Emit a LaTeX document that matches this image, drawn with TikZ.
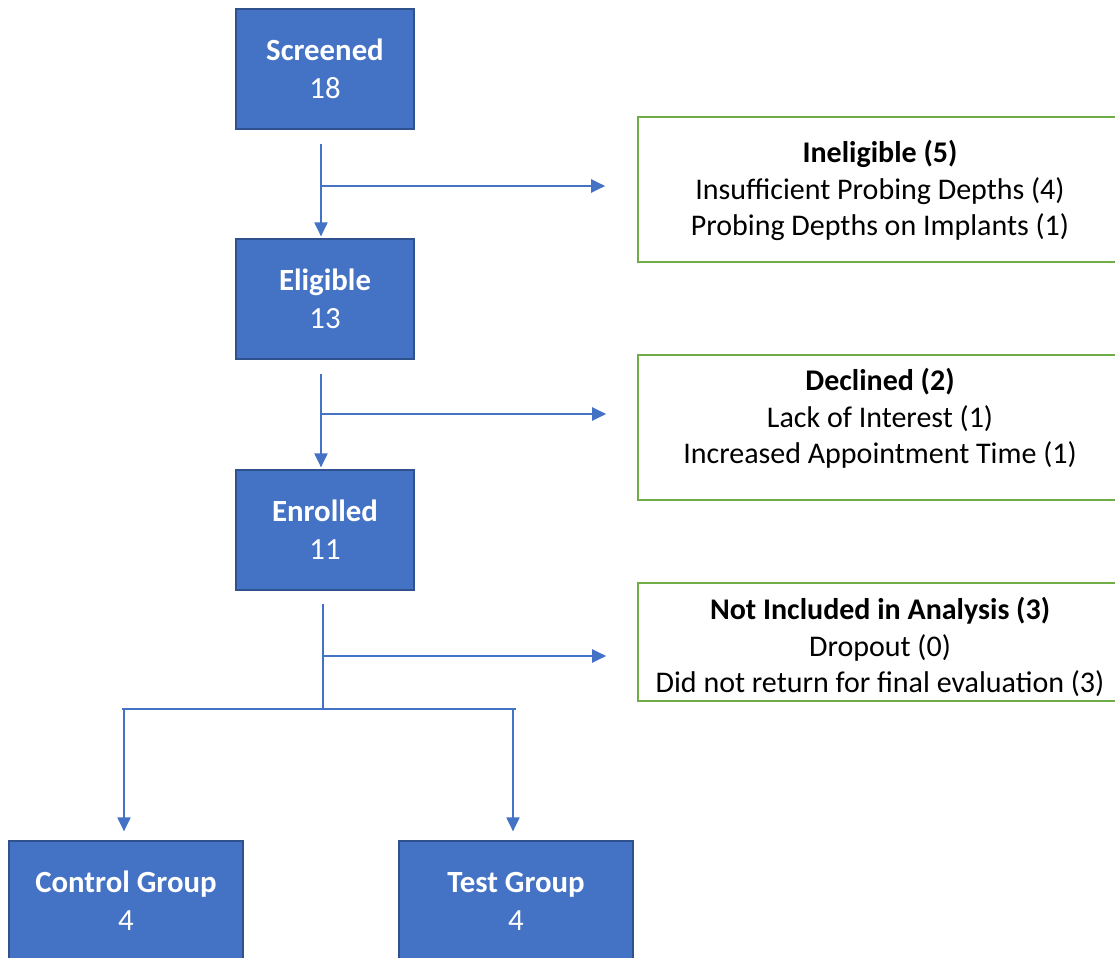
\documentclass[tikz,border=0pt]{standalone}
\usepackage{fontspec}
\setmainfont{Carlito}
\usetikzlibrary{arrows.meta}
\definecolor{boxblue}{HTML}{4472C4}
\definecolor{boxedge}{HTML}{2F528F}
\definecolor{boxgreen}{HTML}{70AD47}
\begin{document}
\begin{tikzpicture}[x=0.5pt,y=-0.5pt,
    stage/.style={draw=boxedge,fill=boxblue,line width=0.6pt,text=white,
      font=\fontsize{15.4}{19}\selectfont,align=center,inner sep=0pt,
      minimum width=89pt,minimum height=60pt},
    group/.style={stage,minimum width=117pt},
    reason/.style={draw=boxgreen,line width=0.8pt,fill=white,inner sep=0pt,
      minimum width=242pt},
    reasontext/.style={font=\fontsize{15}{18.25}\selectfont,align=center,inner sep=0pt},
    flowline/.style={draw=boxblue,line width=1pt},
    flow/.style={flowline,-{Triangle[width=6.5pt,length=7pt]}}]
  \useasboundingbox (0,0) rectangle (1115,958);
  \clip (0,0) rectangle (1115,958);

  %%%%%%%%%%%%%%%%%%%%%%%%%%%%%%%%%%%%%%%%%%%%%%%%%%%%%%%%%%%%%%%%%%%%%%%%%%%
  %%%%  Main stages
  \node[stage] (scr) at (325,69) {\textbf{Screened}\\18};
  \node[stage] (elig) at (325,299) {\textbf{Eligible}\\13};
  \node[stage] (enr) at (325,530) {\textbf{Enrolled}\\11};
  \node[group] (ctrl) at (126,901) {\textbf{Control Group}\\4};
  \node[group] (test) at (516,901) {\textbf{Test Group}\\4};

  %%%%%%%%%%%%%%%%%%%%%%%%%%%%%%%%%%%%%%%%%%%%%%%%%%%%%%%%%%%%%%%%%%%%%%%%%%%
  %%%%  Exclusions
  \node[reason,minimum height=72.5pt,
    label={[reasontext,yshift=-0.5pt]center:{\textbf{Ineligible (5)}\\Insufficient Probing Depths (4)\\Probing Depths on Implants (1)}}]
    (inel) at (880,189.5) {};
  \node[reason,minimum height=72.5pt,
    label={[reasontext,yshift=4.5pt]center:{\textbf{Declined (2)}\\Lack of Interest (1)\\Increased Appointment Time (1)}}]
    (decl) at (880,427.5) {};
  \node[reason,minimum height=59pt,
    label={[reasontext,yshift=-2.5pt]center:{\textbf{Not Included in Analysis (3)}\\Dropout (0)\\Did not return for final evaluation (3)}}]
    (notin) at (880,642) {};

  %%%%%%%%%%%%%%%%%%%%%%%%%%%%%%%%%%%%%%%%%%%%%%%%%%%%%%%%%%%%%%%%%%%%%%%%%%%
  %%%%  Arrows
  \coordinate (j1) at (321,186);
  \coordinate (j2) at (325,414);
  \coordinate (j3) at (325,656);
  \draw[flow,shorten <=7pt,shorten >=1pt] ([xshift=-2pt]scr.south) -- ([xshift=-2pt]elig.north);
  \draw[flow,shorten <=7pt,shorten >=1pt] ([xshift=-2pt]elig.south) -- ([xshift=-2pt]enr.north);
  \draw[flow,shorten >=16pt] (j1) -- (j1 -| inel.west);
  \draw[flow,shorten >=15.5pt] ([xshift=-2pt]j2) -- (j2 -| decl.west);
  \draw[flow,shorten >=15.5pt] ([xshift=-1pt]j3) -- (j3 -| notin.west);

  \coordinate (split) at (323,709);
  \coordinate (brl) at (122,709);
  \coordinate (brr) at (516,709);
  \draw[flowline,shorten <=6.5pt] ([xshift=-1pt]enr.south) -- (split);
  \draw[flowline] (brl) -- (brr);
  \draw[flow,shorten >=4.5pt] ([xshift=-1pt]ctrl.north |- split) -- ([xshift=-1pt]ctrl.north);
  \draw[flow,shorten >=4.5pt] ([xshift=-1.5pt]test.north |- split) -- ([xshift=-1.5pt]test.north);
\end{tikzpicture}
\end{document}
